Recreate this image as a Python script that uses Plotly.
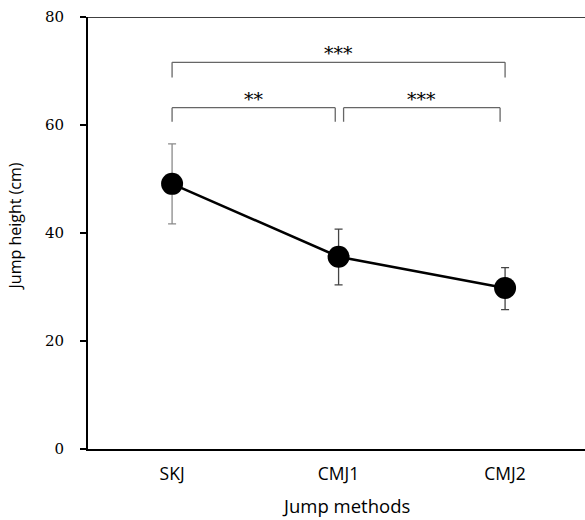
import plotly.graph_objects as go

categories = ["SKJ", "CMJ1", "CMJ2"]
means = [49.1, 35.6, 29.8]
err_upper = [56.5, 40.7, 33.6]
err_lower = [41.7, 30.4, 25.8]
err_colors = ["#8a8a8a", "#444444", "#444444"]

# significance brackets: (start index, end index, bar level, leg bottom, label)
brackets = [
    (0, 2, 71.6, 68.8, "***"),
    (0, 0.98, 63.2, 60.6, "**"),
    (1.03, 1.97, 63.2, 60.6, "***"),
]

xs = list(range(len(categories)))
fig = go.Figure()

for i, x in enumerate(xs):
    fig.add_trace(go.Scatter(
        x=[x], y=[means[i]], mode="markers",
        marker=dict(size=1, color="rgba(0,0,0,0)"),
        error_y=dict(type="data", symmetric=False,
                     array=[err_upper[i] - means[i]],
                     arrayminus=[means[i] - err_lower[i]],
                     color=err_colors[i], thickness=1.3, width=4),
        showlegend=False, hoverinfo="skip"))

fig.add_trace(go.Scatter(
    x=xs, y=means, mode="lines+markers",
    line=dict(color="black", width=2.5),
    marker=dict(size=22, color="black"),
    showlegend=False))

for x0, x1, ytop, ybot, label in brackets:
    fig.add_shape(type="line", x0=x0, x1=x1, y0=ytop, y1=ytop,
                  line=dict(color="#666666", width=1.3))
    fig.add_shape(type="line", x0=x0, x1=x0, y0=ytop, y1=ybot,
                  line=dict(color="#666666", width=1.3))
    fig.add_shape(type="line", x0=x1, x1=x1, y0=ytop, y1=ybot,
                  line=dict(color="#666666", width=1.3))
    fig.add_annotation(x=(x0 + x1) / 2, y=ytop, text=label, showarrow=False,
                       yanchor="middle", yshift=9,
                       font=dict(family="DejaVu Serif", size=19, color="black"))

# top border line at y=80
fig.add_shape(type="line", xref="paper", x0=0, x1=1, y0=80, y1=80,
              line=dict(color="black", width=1.5))

# axis titles
fig.add_annotation(xref="paper", yref="paper", x=0.519, y=-0.13,
                   xanchor="center", yanchor="middle", showarrow=False,
                   text="Jump methods",
                   font=dict(family="Open Sans", size=18.5, color="black"))
fig.add_annotation(xref="paper", yref="paper", x=-0.147, y=0.515,
                   xanchor="center", yanchor="middle", showarrow=False,
                   textangle=-90, text="Jump height (cm)",
                   font=dict(family="Open Sans", size=16, color="black"))

fig.update_layout(
    width=585, height=520,
    margin=dict(l=88, r=0, t=17, b=71),
    plot_bgcolor="white", paper_bgcolor="white",
    xaxis=dict(range=[-0.505, 2.48], tickvals=xs, ticktext=categories,
               showgrid=False, zeroline=False, showline=True, automargin=False,
               linecolor="black", linewidth=2, ticks="",
               ticklabelstandoff=8,
               tickfont=dict(family="Open Sans", size=17.5, color="black")),
    yaxis=dict(range=[0, 80], tickvals=[0, 20, 40, 60, 80],
               showgrid=False, zeroline=False, showline=True, automargin=False,
               linecolor="black", linewidth=2, ticks="outside",
               ticklen=6, tickwidth=1.5, tickcolor="black",
               ticklabelstandoff=13,
               tickfont=dict(family="DejaVu Serif", size=15, color="black")),
)

fig.write_html("out.html",
               config={"displayModeBar": False},
               post_script="document.body.style.margin='0';"
                           "document.body.style.overflow='hidden';")
